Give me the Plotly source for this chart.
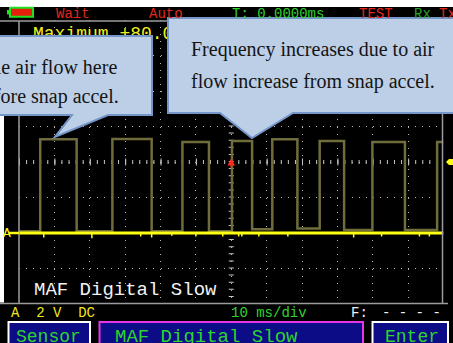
import plotly.graph_objects as go

W, H = 453, 343
MONO = "Liberation Mono, DejaVu Sans Mono, monospace"
SERIF = "Liberation Serif, Times New Roman, serif"

time_per_div_ms = 10
volts_per_div = 2
n_div_x = 12
n_div_y = 8
ground_div_below_center = 2

# stored (olive) MAF square wave: edge times (ms) and level held after each edge (V)
edge_times_ms = [-60.0, -54.0, -43.7, -33.6, -22.5, -13.8, -6.3, 0.2, 5.9,
                 11.6, 18.7, 25.0, 31.9, 39.9, 49.1, 58.2, 60.0]
edge_levels_v = [0.10, 5.28, 0.10, 5.29, 0.10, 5.12, 0.10, 5.18, 0.21,
                 5.28, 0.25, 5.18, 0.17, 5.12, 0.17, 5.12, 5.12]

# live channel A (yellow): flat at ground with small glitches
chA_level_v = 0.0
glitch_times_ms = [-53.0, -39.4, -25.6, -22.5, -16.8, -10.0, -2.4, 2.1, 3.0,
                   7.8, 16.0, 34.6, 42.5, 53.2, 56.0]
glitch_levels_v = [-0.25, -0.3, -0.2, -0.25, -0.15, -0.2, -0.2, -0.2, -0.2,
                   -0.2, -0.2, -0.25, -0.2, -0.2, -0.2]

trigger_time_ms = 0.0
trigger_level_v = 4.0

# ---------------- derived axis ranges ----------------
x_min = -n_div_x / 2 * time_per_div_ms
x_max = n_div_x / 2 * time_per_div_ms
y_min = -(n_div_y / 2 - ground_div_below_center) * volts_per_div
y_max = y_min + n_div_y * volts_per_div
center_v = y_min + n_div_y / 2 * volts_per_div

# screen (pixel) geometry of the graticule
X_L, X_R = 19.0, 443.5
Y_T, Y_B = 20.0, 304.0
div_px_x = (X_R - X_L) / n_div_x
div_px_y = (Y_B - Y_T) / n_div_y

GRID = "#b4b4b4"
OLIVE = "#6f6d3b"
YEL = "#ffff14"
RED = "#ff2a1a"
RED_T = "#e5281c"
GRN = "#2fd32f"
BOXFILL = "#bccfe7"
BOXLINE = "#7496c8"

fig = go.Figure()

# olive reference trace
fig.add_trace(go.Scatter(x=edge_times_ms, y=edge_levels_v, mode="lines",
                         line=dict(color=OLIVE, width=2.5, shape="hv"),
                         hoverinfo="skip", xaxis="x", yaxis="y"))
# live yellow trace
fig.add_trace(go.Scatter(x=[x_min, x_max], y=[chA_level_v, chA_level_v], mode="lines",
                         line=dict(color=YEL, width=3), hoverinfo="skip",
                         xaxis="x", yaxis="y"))
gx, gy = [], []
for t, v in zip(glitch_times_ms, glitch_levels_v):
    gx += [t, t, None]
    gy += [chA_level_v, v, None]
fig.add_trace(go.Scatter(x=gx, y=gy, mode="lines", line=dict(color=YEL, width=1.5),
                         hoverinfo="skip", xaxis="x", yaxis="y"))

# text that sits behind the callout boxes (trace layer)
fig.add_trace(go.Scatter(x=[33], y=[34], mode="text", text=["Maximum +80.0"],
                         textposition="middle right",
                         textfont=dict(family=MONO, size=18, color="#f0f020"),
                         hoverinfo="skip", xaxis="x2", yaxis="y2", cliponaxis=False))

fig.update_layout(
    width=W, height=H, margin=dict(l=0, r=0, t=0, b=0, pad=0),
    paper_bgcolor="black", plot_bgcolor="rgba(0,0,0,0)", showlegend=False,
    xaxis=dict(domain=[X_L / W, X_R / W], range=[x_min, x_max], tick0=0,
               dtick=time_per_div_ms, showgrid=True, gridcolor=GRID, gridwidth=1,
               griddash="1px,%.3fpx" % (div_px_y / 5 - 1), zeroline=False,
               showticklabels=False, ticks="", showline=False, fixedrange=True),
    yaxis=dict(domain=[(H - Y_B) / H, (H - Y_T) / H], range=[y_min, y_max], tick0=0,
               dtick=volts_per_div, showgrid=True, gridcolor=GRID, gridwidth=1,
               griddash="1px,%.3fpx" % (div_px_x / 5 - 1), zeroline=False,
               showticklabels=False, ticks="", showline=False, fixedrange=True),
    xaxis2=dict(domain=[0, 1], range=[0, W], visible=False, anchor="y2", fixedrange=True),
    yaxis2=dict(domain=[0, 1], range=[H, 0], visible=False, anchor="x2", fixedrange=True),
)

shapes = []


def px_rect(x0, y0, x1, y1, fill=None, line=None, lw=0, layer="above"):
    shapes.append(dict(type="rect", xref="x2", yref="y2", x0=x0, y0=y0, x1=x1, y1=y1,
                       fillcolor=fill or "rgba(0,0,0,0)",
                       line=dict(color=line or "rgba(0,0,0,0)", width=lw), layer=layer))


def px_line(x0, y0, x1, y1, color, lw, layer="above", dash=None):
    d = dict(color=color, width=lw)
    if dash:
        d["dash"] = dash
    shapes.append(dict(type="line", xref="x2", yref="y2", x0=x0, y0=y0, x1=x1, y1=y1,
                       line=d, layer=layer))


# centre graticule tick rulers (data-referenced)
minor_x = div_px_x / 5
minor_y = div_px_y / 5
shapes.append(dict(type="line", xref="x", yref="y", x0=x_min, x1=x_max, y0=center_v, y1=center_v,
                   line=dict(color="#c8c8c8", width=4, dash="1px,%.3fpx" % (minor_x - 1)), layer="below"))
shapes.append(dict(type="line", xref="x", yref="y", x0=x_min, x1=x_max, y0=center_v, y1=center_v,
                   line=dict(color="#c8c8c8", width=7, dash="1px,%.3fpx" % (div_px_x - 1)), layer="below"))
shapes.append(dict(type="line", xref="x", yref="y", x0=0, x1=0, y0=y_min, y1=y_max,
                   line=dict(color="#c8c8c8", width=5, dash="1px,%.3fpx" % (minor_y - 1)), layer="below"))

# frame lines
FRAME = "#9c9c9c"
px_line(0, 21, W, 21, FRAME, 1.5, layer="below")
px_line(0, 303.5, 448, 303.5, FRAME, 1.5, layer="below")
px_line(19, 21, 19, 303.5, FRAME, 1.5, layer="below")
px_line(442.5, 21, 442.5, 303.5, FRAME, 1.5, layer="below")

# white page margins around the screenshot
px_rect(0, 0, W, 7, fill="white", layer="above")
px_rect(0, 37, 4, 302.5, fill="white", layer="above")

# battery icon
px_rect(7, 10, 10, 14.5, fill="#22e022")
px_rect(10, 7.8, 33, 16.8, fill="#e4200c", line="#22e022", lw=2)

# ground marker dash for channel A
shapes.append(dict(type="line", xref="x2", yref="y", x0=9, x1=19, y0=chA_level_v, y1=chA_level_v,
                   line=dict(color=YEL, width=2.5), layer="above"))
# trigger level marker on right edge
shapes.append(dict(type="path", xref="x2", yref="y", ysizemode="pixel", yanchor=trigger_level_v,
                   path="M446,0 L449,3 L456,3 L456,-3 L449,-3 Z",
                   fillcolor=YEL, line=dict(width=0), layer="above"))

# callout boxes
shapes.append(dict(type="path", xref="x2", yref="y2",
                   path="M-20,36 L152,36 L152,115 L108,115 L55,137 L72,115 L-20,115 Z",
                   fillcolor=BOXFILL, line=dict(color=BOXLINE, width=2), layer="above"))
shapes.append(dict(type="path", xref="x2", yref="y2",
                   path="M168,18 L470,18 L470,113 L293,113 L252,138 L220,113 L168,113 Z",
                   fillcolor=BOXFILL, line=dict(color=BOXLINE, width=2), layer="above"))

# softkey buttons
BTN = "#0c0c86"
px_rect(8.5, 322, 90, 352, fill=BTN, line="white", lw=2)
px_rect(99.5, 322, 363, 352, fill=BTN, line="#e636e6", lw=2)
px_rect(372.5, 322, 448, 352, fill=BTN, line="white", lw=2)

fig.update_layout(shapes=shapes)


def label(text, x, y, size, color, family=MONO, xanchor="left"):
    fig.add_annotation(x=x, y=y, xref="x2", yref="y2", text=text, showarrow=False,
                       font=dict(family=family, size=size, color=color),
                       xanchor=xanchor, yanchor="middle", borderpad=0)


NB = "\u00a0"
# status bar
label("Wait", 55, 14.3, 14, RED_T)
label("Auto", 148, 14.3, 14, RED_T)
label("T:" + NB + "0.0000ms", 231, 14.3, 14, GRN)
label("TEST", 358, 14.3, 14, RED_T)
label("Rx", 413, 14.3, 14, "#2aa02a")
label("Tx", 438, 14.3, 14, RED_T)

# on-screen label
label("MAF" + NB + "Digital" + NB + "Slow", 33, 290, 19, "#f2f2f2")
# channel marker
fig.add_annotation(x=7, y=chA_level_v, xref="x2", yref="y", text="A", showarrow=False,
                   font=dict(family=MONO, size=13, color=YEL), xanchor="center",
                   yanchor="middle", borderpad=0)

# bottom status row
label("A" + NB * 2 + "2" + NB + "V" + NB * 2 + "DC", 10, 313, 14, "#f0e81a")
label("10" + NB + "ms/div", 230, 313, 14, GRN)
label("F:", 350, 313, 14, "#f0f0f0")
label("-" + NB + "-" + NB + "-" + NB + "-", 381, 313, 14, "#f0f0f0")

# button captions
label("Sensor", 15, 336.5, 18, GRN)
label("MAF" + NB + "Digital" + NB + "Slow", 114, 336.5, 19, GRN)
label("Enter", 384, 336.5, 18, GRN)

# callout texts
label("Idle air flow here", 118, 67, 20, "#141414", family=SERIF, xanchor="right")
label("before snap accel.", 120, 96, 20, "#141414", family=SERIF, xanchor="right")
label("Frequency increases due to air", 190, 49, 20, "#141414", family=SERIF)
label("flow increase from snap accel.", 190, 81, 20, "#141414", family=SERIF)

# trigger position arrow
fig.add_annotation(x=trigger_time_ms, y=trigger_level_v, xref="x", yref="y", text="",
                   showarrow=True, arrowhead=2, arrowsize=1, arrowwidth=1.5,
                   arrowcolor=RED, ax=0, ay=11, yshift=4)

fig.write_html("out.html", config={"displayModeBar": False},
               post_script="document.body.style.margin='0px';")
